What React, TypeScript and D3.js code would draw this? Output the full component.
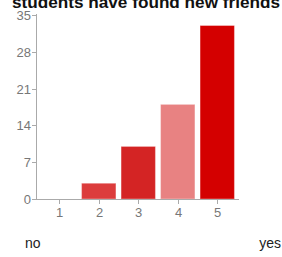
import React from "react";
import * as d3 from "d3";

const title = "students have found new friends";
const categories = ["1", "2", "3", "4", "5"];
const values = [0, 3, 10, 18, 33];
const colors = ["#dc3c3c", "#dc3c3c", "#d42424", "#e88282", "#d40000"];
const yTicks = [0, 7, 14, 21, 28, 35];
const lowLabel = "no";
const highLabel = "yes";

export default function App() {
  const W = 282, H = 257;
  const x0 = 36, x1 = 239, yBase = 199, yTop = 15;
  const x = d3.scaleBand<string>().domain(categories).range([39.5, 237]).paddingInner(0.13).paddingOuter(0.065);
  const y = d3.scaleLinear().domain([0, 35]).range([yBase, yTop]);
  const font = "Arial, 'Liberation Sans', sans-serif";
  return (
    <svg width={W} height={H} style={{ position: "absolute", left: 0, top: 0 }} fontFamily={font}>
      <rect width={W} height={H} fill="#fff" />
      <text x={280} y={8} textAnchor="end" fontSize={17} fontWeight="bold" fill="#111" textLength={268} lengthAdjust="spacingAndGlyphs">{title}</text>
      {categories.map((c, i) => (
        values[i] > 0 ? (
          <rect key={c} x={x(c)!} y={y(values[i])} width={x.bandwidth()} height={yBase - y(values[i])} fill={colors[i]} stroke="#fff" strokeOpacity={0.35} strokeWidth={1} />
        ) : null
      ))}
      <line x1={x0 + 0.5} x2={x0 + 0.5} y1={yTop - 1} y2={yBase} stroke="#aaa" />
      <line x1={x0} x2={x1} y1={yBase + 0.5} y2={yBase + 0.5} stroke="#aaa" />
      {yTicks.map(t => (
        <g key={t}>
          <line x1={x0 - 4} x2={x0} y1={Math.round(y(t)) + 0.5} y2={Math.round(y(t)) + 0.5} stroke="#aaa" />
          <text x={x0 - 5} y={y(t) + 5} textAnchor="end" fontSize={13} fill="#777">{t}</text>
        </g>
      ))}
      {categories.map(c => {
        const cx = Math.round(x(c)! + x.bandwidth() / 2) + 0.5;
        return (
          <g key={c}>
            <line x1={cx} x2={cx} y1={yBase} y2={yBase + 5} stroke="#aaa" />
            <text x={cx} y={yBase + 18} textAnchor="middle" fontSize={13} fill="#777">{c}</text>
          </g>
        );
      })}
      <text x={25} y={248} fontSize={14} fill="#222">{lowLabel}</text>
      <text x={281} y={248} textAnchor="end" fontSize={14} fill="#222">{highLabel}</text>
    </svg>
  );
}
